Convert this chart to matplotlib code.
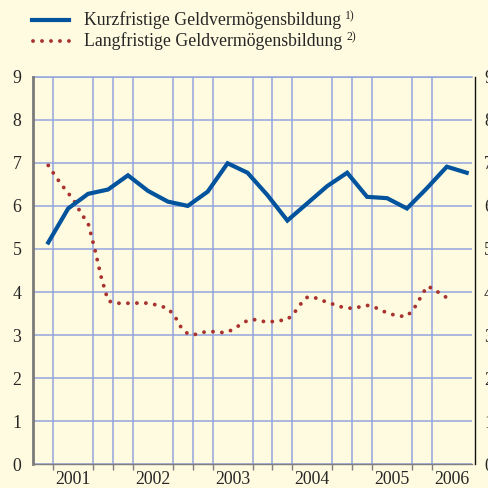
import matplotlib
matplotlib.use("Agg")
import matplotlib.pyplot as plt
from matplotlib.lines import Line2D
import numpy as np

plt.rcParams['font.family'] = ['Liberation Serif', 'DejaVu Serif']

# Kurzfristige Geldvermoegensbildung, quarterly 2001Q1 - 2006Q2
kurz = [5.15, 5.94, 6.28, 6.38, 6.71, 6.35, 6.10, 6.00, 6.33, 6.99, 6.77,
        6.25, 5.66, 6.06, 6.46, 6.77, 6.21, 6.18, 5.94, 6.41, 6.91, 6.77]

# Langfristige Geldvermoegensbildung, monthly from March 2001
lang = [6.94, 6.71, 6.49, 6.30, 6.09, 5.81, 5.60, 5.00, 4.33, 3.80,
        3.74, 3.74, 3.74, 3.74, 3.75, 3.74, 3.71, 3.67, 3.62, 3.45,
        3.18, 3.03, 3.01, 3.06, 3.08, 3.08, 3.06, 3.07, 3.15, 3.25,
        3.34, 3.36, 3.33, 3.30, 3.32, 3.34, 3.36, 3.51, 3.72, 3.88,
        3.88, 3.81, 3.77, 3.71, 3.66, 3.63, 3.62, 3.66, 3.69, 3.66,
        3.58, 3.52, 3.47, 3.44, 3.44, 3.60, 3.86, 4.13, 4.08, 3.96,
        3.87, 3.79]

years = ['2001', '2002', '2003', '2004', '2005', '2006']
label_kurz = "Kurzfristige Geldvermögensbildung"
label_lang = "Langfristige Geldvermögensbildung"

x_kurz = 2001.1875 + 0.25 * np.arange(len(kurz))
x_lang = 2001.1875 + np.arange(len(lang)) / 12.0

bg = '#fffbe0'
blue = '#00539c'
red = '#a8322e'
gridc = '#94a4de'
textc = '#262626'
W = H = 488
dots = (0, (0.01, 2.3))

fig = plt.figure(figsize=(4.88, 4.88), dpi=100, facecolor=bg)
ax = fig.add_axes([33.3 / W, (H - 464.3) / H, (471.7 - 33.3) / W, (464.3 - 76.7) / H])
ax.set_facecolor(bg)

ax.plot(x_lang, lang, color=red, lw=2.8, linestyle=dots,
        dash_capstyle='round', zorder=3)
ax.plot(x_kurz, kurz, color=blue, lw=3.0, solid_joinstyle='miter', zorder=4)

ax.set_xlim(2001, 2006.5)
ax.set_ylim(0, 9)

# grid
ax.set_yticks(range(0, 10))
ax.set_xticks(np.arange(2001.25, 2006.5, 0.25), minor=True)
ax.grid(True, which='minor', axis='x', color=gridc, lw=1.1)
ax.grid(True, which='major', axis='y', color=gridc, lw=1.1)
ax.axhline(9, color=gridc, lw=1.1, clip_on=False, zorder=1)
ax.set_axisbelow(True)

# year labels
year_pos = [2001.5, 2002.5, 2003.5, 2004.5, 2005.5, 2006.25]
ax.set_xticks(year_pos)
ax.set_xticklabels(years)
ax.tick_params(axis='x', which='major', length=0, pad=4.5, labelsize=12.8, labelcolor=textc)
ax.tick_params(axis='x', which='minor', length=4, width=1, color='#808080', direction='out')
ax.tick_params(axis='y', length=0, pad=8.5, labelsize=12.8, labelcolor=textc)

ax.spines['top'].set_visible(False)
ax.spines['right'].set_visible(False)
ax.spines['left'].set_color('#7a7a7a')
ax.spines['left'].set_linewidth(2)
ax.spines['bottom'].set_color('#808080')
ax.spines['bottom'].set_linewidth(1)

# right-hand axis (cut off by the figure edge, as in the original)
ax2 = ax.twinx()
ax2.set_ylim(0, 9)
ax2.set_yticks(range(0, 10))
ax2.tick_params(axis='y', length=0, pad=6.3, labelsize=12.8, labelcolor=textc)
for s in ['top', 'left', 'bottom']:
    ax2.spines[s].set_visible(False)
ax2.spines['right'].set_color('#111111')
ax2.spines['right'].set_linewidth(1)
ax2.spines['right'].set_position(('outward', 2.5))

# legend, drawn by hand
fig.add_artist(Line2D([32 / W, 69 / W], [1 - 20 / H, 1 - 20 / H], color=blue, lw=3.0))
fig.add_artist(Line2D([33 / W, 69 / W], [1 - 41 / H, 1 - 41 / H], color=red, lw=2.8,
                      linestyle=dots, dash_capstyle='round'))
t1 = fig.text(84 / W, 1 - 20 / H, label_kurz, fontsize=12.8, color=textc, va='center')
t2 = fig.text(84 / W, 1 - 41 / H, label_lang, fontsize=12.8, color=textc, va='center')
fig.canvas.draw()
r = fig.canvas.get_renderer()
for t, sup in [(t1, '1)'), (t2, '2)')]:
    bb = t.get_window_extent(r)
    fig.text((bb.x1 + 4) / W, (bb.y1 - 5) / H, sup, fontsize=8.5, color=textc, va='center')

fig.savefig('out.png', dpi=100, facecolor=bg)
